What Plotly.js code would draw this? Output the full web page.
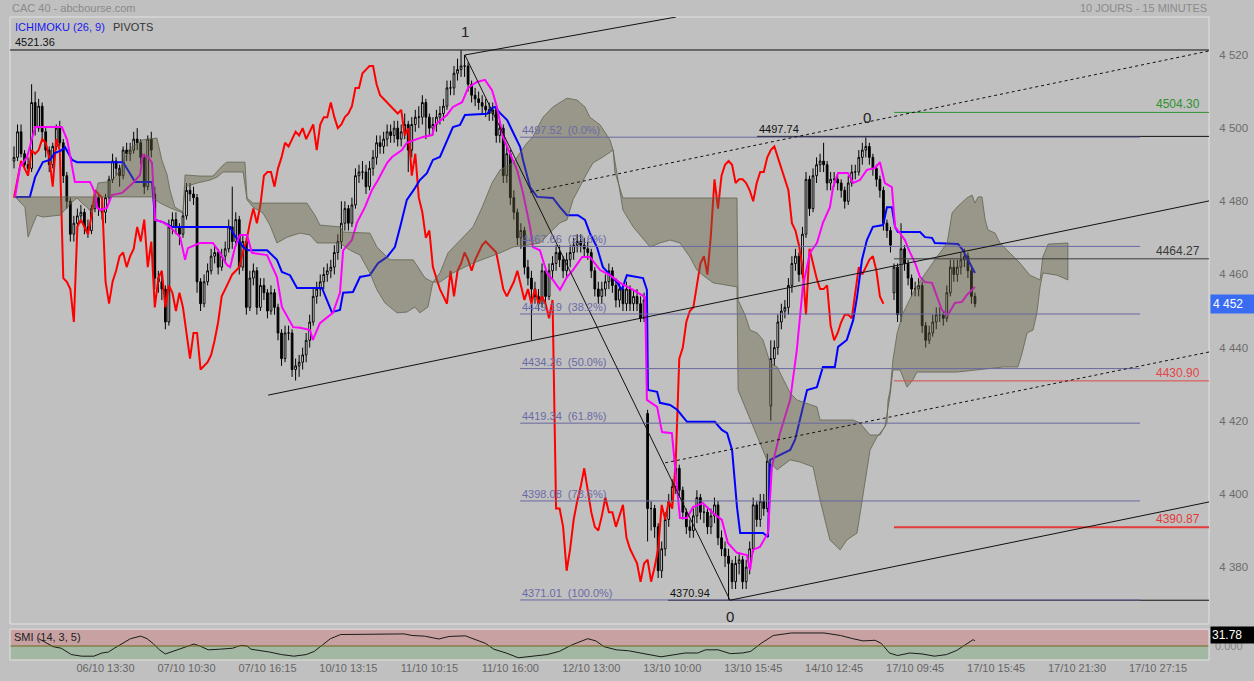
<!DOCTYPE html>
<html><head><meta charset="utf-8">
<script src="https://cdn.plot.ly/plotly-3.0.1.min.js"></script>
<style>html,body{margin:0;padding:0;background:#c0c0c0;overflow:hidden}#chart{width:1254px;height:681px}</style>
</head><body><div id="chart"></div>
<script>
// ---------------- DATA ----------------
// 15-minute CAC 40 bars (bar index = position on x axis)
const closes = [
4492,4499,4493,4490,4489,4507,4500,4506,4499,4494,4490,4495,4500,4496,4487,4480,4471,4474,4476,4477,4473,4472,4478,4481,4478,4477,
4481,4486,4491,4489,4487,4494,4493,4494,4497,4496,
4492,4484,4497,4494,4459,4458,4456,4447,4473,4475,
4473,4471,4476,4483,4482,4481,4458,4452,4458,4461,
4465,4466,4462,4465,4467,4473,4469,4475,4462,4469,
4451,4459,4461,4451,4457,4455,4450,4455,4451,4444,
4437,4444,4444,4434,4435,4436,4438,4442,4447,4454,
4456,4458,4460,4461,4462,4466,4469,4474,4478,4474,
4479,4487,4488,4488,4484,4489,4492,4496,4495,4497,
4499,4498,4500,4497,4499,4501,4494,4501,4503,4503,
4507,4503,4500,4501,4503,4504,4506,4511,4511,4515,
4516,4517,4517,4512,4509,4508,4507,4506,4505,4504,
4505,4498,4500,4487,4493,4481,4477,4470,4472,4462,
4459,4456,4454,4452,4461,4454,4461,4463,4466,4464,
4461,4464,4466,4468,4469,4468,4467,4466,4461,4456,
4454,4456,4458,4461,4457,4453,4456,4452,4456,4452,
4454,4452,4448,4453,4396,4396,4391,4379,4385,4393,
4398,4402,4407,4401,4395,4391,4390,4394,4399,4395,
4395,4391,4394,4397,4388,4385,4383,4381,4376,4381,
4382,4376,4380,4385,4397,4393,4398,4396,4409,4437,
4440,4447,4450,4451,4457,4463,4465,4460,4471,4486,
4478,4487,4490,4491,4490,4485,4486,4486,4485,4483,
4480,4485,4488,4488,4492,4494,4495,4492,4489,4486,
4483,4474,4472,4468,4462,4449,4467,4463,4459,4456,
4456,4457,4446,4442,4444,4447,4449,4449,4448,4455,
4462,4460,4462,4464,4465,4461,4454,4452];
const highs = [
4495,4501,4501,4494,4492,4512,4510,4508,4507,4500,
4495,4496,4501,4502,4497,4488,4481,4476,4478,4479,
4478,4475,4479,4483,4482,4480,4482,4487,4493,4492,
4490,4495,4496,4496,4499,4500,4497,4493,4498,4499,
4484,4461,4460,4457,4475,4477,4477,4474,4477,4485,
4485,4484,4482,4459,4460,4463,4467,4468,4467,4467,
4469,4475,4484,4477,4476,4471,4470,4461,4463,4462,
4459,4459,4456,4457,4456,4452,4445,4446,4446,4445,
4437,4438,4440,4444,4449,4456,4458,4460,4462,4463,
4464,4468,4471,4480,4480,4479,4481,4489,4490,4491,
4490,4491,4494,4498,4498,4499,4501,4501,4502,4502,
4501,4504,4502,4503,4505,4506,4509,4508,4504,4503,
4505,4506,4508,4513,4513,4517,4519,4521.36,4520,4518,
4513,4511,4510,4509,4508,4507,4507,4506,4502,4501,
4495,4494,4483,4478,4474,4473,4464,4461,4458,4456,
4463,4462,4463,4465,4468,4468,4465,4466,4468,4470,
4471,4471,4470,4469,4467,4462,4458,4458,4460,4463,
4462,4459,4458,4457,4458,4457,4456,4456,4454,4455,
4423,4398,4397,4392,4387,4395,4400,4404,4409,4408,
4402,4396,4393,4396,4401,4400,4397,4396,4396,4399,
4398,4390,4387,4385,4382,4383,4384,4383,4382,4387,
4399,4398,4400,4400,4411,4442,4442,4449,4452,4453,
4459,4465,4467,4466,4473,4488,4487,4489,4492,4493,
4496,4491,4488,4488,4487,4486,4484,4487,4490,4490,
4494,4496,4497.74,4496,4493,4490,4487,4484,4475,4473,
4463,4463,4474,4468,4464,4460,4458,4459,4458,4447,
4446,4449,4451,4451,4450,4457,4464,4464,4464,4466,
4467,4466,4462,4455];
const lows = [
4489,4491,4492,4489,4487,4488,4498,4499,4497,4492,
4488,4489,4494,4495,4485,4478,4469,4469,4472,4474,
4471,4470,4471,4477,4476,4475,4474,4480,4485,4487,
4484,4486,4491,4491,4493,4494,4490,4482,4483,4492,
4456,4455,4453,4445,4446,4471,4471,4468,4470,4475,
4480,4479,4455,4450,4451,4457,4460,4463,4460,4461,
4463,4466,4467,4468,4460,4461,4449,4450,4457,4449,
4450,4453,4448,4449,4449,4442,4435,4436,4442,4432,
4431,4432,4434,4436,4440,4446,4452,4454,4456,4458,
4459,4460,4464,4467,4472,4472,4473,4478,4485,4486,
4482,4483,4487,4490,4493,4493,4495,4496,4496,4495,
4495,4497,4488,4492,4499,4500,4501,4497,4498,4498,
4499,4501,4502,4505,4509,4509,4513,4514,4514,4510,
4507,4506,4505,4504,4503,4502,4502,4496,4496,4485,
4485,4479,4475,4468,4467,4460,4457,4442,4452,4450,
4451,4452,4453,4459,4461,4462,4459,4459,4462,4464,
4466,4466,4465,4464,4459,4454,4452,4452,4454,4456,
4455,4451,4451,4450,4450,4450,4450,4450,4447,4447,
4387,4390,4388,4377,4377,4383,4391,4396,4400,4399,
4393,4389,4388,4388,4392,4393,4392,4389,4389,4392,
4386,4383,4380,4370.94,4374,4374,4378,4374,4374,4378,
4384,4391,4391,4394,4395,4420,4435,4438,4445,4448,
4449,4455,4461,4458,4459,4470,4476,4477,4485,4488,
4488,4483,4483,4484,4483,4481,4478,4479,4484,4486,
4487,4490,4492,4490,4487,4484,4481,4472,4470,4466,
4453,4447,4447,4461,4457,4454,4454,4454,4444,4440,
4441,4443,4445,4447,4446,4447,4454,4458,4458,4460,
4462,4459,4452,4451];
// session opens that do not equal the previous close
const gapIdx  = [0, 40, 180, 215, 250];
const gapOpen = [4491, 4482, 4422, 4424, 4455];

// Ichimoku (26, 9)
const CHIKOU_SHIFT = 26;
const tenkanIdx = [0.3,1.7,3.7,6.0,13.6,15.1,17.3,21.6,23.0,23.6,24.4,26.4,27.8,30.7,33.8,35.8,36.6,38.1,39.2,40.1,42.3,44.3,47.2,48.6,49.4,52.8,56.5,58.5,60.5,61.4,62.8,64.2,66.2,67.6,71.9,74.7,76.1,79.3,81.3,84.1,84.9,86.9,90.6,92.6,93.5,96.0,97.4,99.7,101.7,103.4,106.0,107.4,110.2,111.6,113.9,116.2,118.8,119.6,123.0,124.7,127.3,129.0,131.5,133.8,135.8,137.2,138.9,140.9,142.9,144.6,145.7,146.6,147.4,149.4,151.4,153.1,155.1,157.1,158.8,161.4,163.6,166.5,169.3,172.2,175.9,179.3,179.8,182.7,184.1,186.9,187.8,189.2,191.2,192.9,195.7,198.6,201.1,202.8,205.4,208.2,209.1,209.9,211.9,214.2,215.3,217.6,220.5,222.4,224.1,226.1,228.1,229.8,231.8,232.7,234.1,236.9,238.4,240.3,242.3,244.6,246.0,247.4,249.4,250.3,251.7,253.1,254.5,256.0,257.4,258.8,260.8,262.2,263.6,265.3,267.3,269.3,270.7,273.0];
const tenkanVal = [4481.2,4489.4,4492.1,4500.3,4500.3,4496.8,4485.3,4485.3,4482.3,4478.4,4477.6,4478.2,4481.7,4482.3,4485.0,4487.2,4492.7,4492.1,4490.5,4474.9,4474.3,4473.0,4470.2,4464.0,4467.2,4468.6,4468.6,4465.9,4462.6,4462.0,4467.5,4470.8,4470.8,4465.9,4465.3,4459.3,4451.1,4445.6,4445.4,4444.8,4442.1,4446.7,4449.5,4455.0,4466.6,4469.4,4474.1,4478.4,4483.1,4485.8,4490.5,4492.1,4494.0,4496.0,4496.8,4497.6,4498.1,4500.9,4503.6,4505.8,4507.1,4511.0,4512.6,4513.2,4510.4,4505.8,4497.6,4493.2,4488.6,4482.3,4476.8,4473.0,4467.5,4466.6,4460.4,4458.5,4455.8,4459.3,4461.2,4464.8,4464.8,4461.2,4459.8,4457.7,4455.8,4453.8,4425.7,4423.8,4416.9,4416.6,4407.4,4393.4,4393.4,4396.4,4397.5,4394.8,4392.9,4386.6,4383.9,4383.3,4379.2,4384.7,4385.5,4389.3,4407.4,4416.6,4425.7,4439.4,4456.6,4465.9,4468.6,4474.1,4478.4,4483.9,4487.7,4487.7,4485.0,4485.8,4488.6,4489.1,4490.7,4485.0,4483.9,4473.0,4471.3,4469.4,4466.1,4463.1,4459.3,4457.9,4457.7,4453.8,4450.3,4448.9,4452.2,4452.5,4454.4,4456.6];
const kijunIdx = [0.3,4.5,6.0,8.2,10.2,11.6,13.6,14.5,16.5,17.9,31.0,33.0,34.4,39.2,40.1,42.3,44.9,61.4,62.2,65.1,66.5,71.9,74.7,76.1,78.4,80.4,87.5,88.9,90.3,92.6,93.5,96.3,98.3,101.1,103.4,106.0,108.2,109.7,111.6,113.9,115.3,117.3,119.0,121.0,123.0,124.7,126.7,128.1,134.4,135.8,136.6,138.1,140.1,141.8,143.8,144.6,146.6,148.6,153.1,155.1,157.1,160.2,162.2,163.6,165.6,167.3,171.3,172.7,174.1,178.7,179.8,180.1,182.7,183.5,186.4,188.4,191.2,199.1,201.1,202.6,204.0,205.4,206.3,212.8,214.2,214.8,220.5,221.9,223.3,225.3,228.1,229.8,233.2,234.1,236.6,238.4,239.5,240.9,242.3,244.0,246.9,248.0,249.4,250.3,251.1,257.4,258.8,260.8,261.6,268.2,269.6,273.0];
const kijunVal = [4481.2,4481.2,4486.6,4490.7,4491.3,4493.2,4494.0,4494.8,4491.3,4490.7,4490.7,4487.7,4485.3,4485.3,4474.9,4474.3,4473.0,4473.0,4471.3,4467.5,4466.6,4466.6,4464.0,4460.7,4459.8,4456.3,4456.3,4453.0,4449.7,4450.3,4455.0,4455.2,4459.3,4459.8,4463.1,4464.8,4467.5,4473.0,4480.4,4483.6,4485.8,4487.7,4491.3,4492.1,4496.8,4500.3,4500.9,4503.6,4503.9,4505.5,4505.8,4504.1,4502.2,4498.7,4494.8,4491.3,4483.9,4481.2,4480.9,4478.4,4476.2,4476.2,4474.9,4471.3,4467.5,4462.0,4457.9,4455.8,4459.8,4459.0,4455.8,4428.4,4427.9,4424.9,4424.3,4423.0,4419.7,4419.7,4417.5,4416.6,4412.0,4396.4,4389.3,4389.3,4388.2,4409.3,4412.0,4414.8,4420.2,4428.4,4429.2,4434.7,4434.7,4440.2,4442.1,4447.5,4453.8,4464.0,4469.4,4473.0,4473.5,4478.4,4478.4,4473.0,4471.6,4471.6,4470.2,4470.0,4468.6,4468.3,4466.6,4460.4];
// Kumo (cloud) upper and lower edges
const cloudTopIdx = [0.3,23,23.9,26.4,28.1,30.1,31.5,33,35.2,36.6,40.6,42,43.5,44.3,45.7,48,48.6,52.8,56.5,59.4,60.5,65.6,66.2,67.9,83.2,85.5,86.9,92.6,93.5,101.1,103.1,104.8,106.8,113.4,116.8,119,121,123.3,126.7,130.4,133,135.8,138.1,141.8,144.3,145.7,147.4,150.3,153.1,157.1,159.9,162.2,163.6,166.5,169.3,170.2,170.7,172.2,173,205.4,205.7,207.7,209.1,211.1,212.8,214.8,216.8,220.5,222.4,228.1,229,238.4,240.3,243.2,246,248,248.3,248.9,249.7,250.9,252.6,255.4,258.2,262.2,265.1,266.5,267.9,270.7,272.2,273,273.9,275,275.9,276.7,278.7,280.1,283,285.8,288.6,291.5,292.3,293.8,299.4];
const cloudTopVal = [4481.2,4481.2,4485.0,4485.3,4485.8,4488.6,4492.1,4494.6,4496.0,4496.8,4497.3,4491.3,4487.2,4483.1,4478.4,4477.1,4487.2,4486.9,4486.9,4489.9,4490.7,4490.7,4480.9,4479.5,4479.5,4476.2,4473.5,4473.0,4471.6,4471.3,4467.5,4465.9,4464.0,4464.0,4459.0,4457.9,4460.4,4465.9,4469.4,4473.0,4478.4,4485.0,4488.6,4490.5,4494.0,4495.9,4497.6,4503.0,4505.8,4508.2,4507.7,4505.8,4503.0,4500.9,4496.8,4494.0,4488.0,4483.1,4480.9,4480.9,4453.0,4448.9,4444.8,4444.0,4442.1,4435.8,4434.7,4427.6,4425.7,4423.8,4420.2,4420.2,4419.4,4416.1,4416.1,4419.4,4425.7,4428.4,4436.6,4444.0,4449.5,4455.0,4459.3,4464.8,4468.6,4476.8,4478.4,4480.9,4481.7,4479.5,4481.2,4481.2,4474.9,4472.2,4471.3,4468.6,4465.9,4463.1,4459.8,4458.5,4464.8,4468.3,4468.6];
const cloudBotIdx = [0.3,3.1,4,5.1,6.5,8.2,13.1,15.1,16.5,17.9,19.3,20.7,22.2,23,39.2,41.5,44.3,48,48.6,52,55.7,57.7,59.4,65.1,66.2,67.9,70.7,72.7,74.7,77.6,81.3,84.1,86.1,92.6,95.5,98.3,101.1,103.1,105.4,108.8,111.6,113.9,115.3,117.6,119,121,124.7,130.4,134.4,138.1,141.8,145.7,149.4,153.1,155.1,157.1,158.8,160.8,162.8,164.5,167.3,170.2,173,175.9,180.7,183.5,186.4,189.2,192,194,195.7,198.6,205.4,205.7,209.1,213.9,216.8,220.5,223.3,227,229,231.8,234.7,236.6,239.5,241.2,243.2,245.2,247.4,248.9,249.7,251.7,253.7,255.4,256.5,267.9,281,285.2,286.4,287.8,289.5,290.6,291.5,292.3,296.3,299.4];
const cloudBotVal = [4481.2,4478.4,4470.2,4473.0,4476.2,4475.7,4476.2,4478.4,4479.8,4480.9,4479.5,4478.4,4476.8,4481.2,4481.2,4479.5,4478.2,4476.8,4483.9,4485.0,4485.8,4486.6,4488.0,4488.0,4480.4,4478.4,4476.8,4473.5,4468.6,4470.2,4471.3,4470.8,4468.6,4468.6,4466.6,4465.3,4460.4,4455.8,4452.2,4449.5,4449.7,4451.1,4449.5,4451.1,4457.9,4457.9,4460.4,4463.1,4464.5,4465.9,4467.5,4468.0,4468.6,4472.2,4474.1,4474.9,4480.4,4483.9,4487.7,4490.5,4492.1,4494.0,4477.6,4473.0,4467.5,4468.6,4469.4,4468.6,4464.8,4461.2,4459.8,4457.7,4456.6,4428.4,4420.2,4409.3,4406.6,4409.3,4408.7,4407.4,4398.3,4387.4,4384.7,4387.4,4389.3,4400.3,4412.0,4415.6,4418.3,4427.0,4433.9,4433.9,4429.2,4431.2,4433.3,4433.3,4434.7,4434.7,4438.5,4444.0,4444.8,4449.5,4456.6,4460.4,4459.8,4458.5];

// SMI (14, 3, 5)
const smiIdx = [7.0,8.8,11.1,13.4,16.3,19.2,22.7,25.0,26.8,28.5,30.8,33.1,36.0,37.8,39.5,41.3,43.0,44.7,47.0,49.4,51.1,52.8,55.2,58.6,62.1,64.4,66.2,67.3,70.2,72.6,76.0,79.5,83.0,85.3,87.6,89.9,92.8,100.4,105.0,110.8,113.1,116.6,120.7,123.6,128.2,130.5,134.0,136.3,139.8,143.3,146.8,151.4,154.9,158.4,163.0,165.3,167.6,171.1,174.6,178.0,183.8,190.7,194.2,196.5,200.0,203.5,206.9,209.3,212.2,215.7,220.9,230.1,234.8,238.3,241.2,244.6,246.4,248.7,251.0,254.5,258.0,261.5,264.9,267.8,270.7,272.5,273.0];
const smiVal = [46,26,-4,-14,-54,-64,-64,-44,-38,-14,16,46,62,46,16,-24,-50,-38,-20,-4,12,0,-24,-20,-14,4,0,-20,-28,-38,-54,-64,-54,-34,6,46,72,72,76,76,66,62,44,60,64,46,16,-20,-44,-74,-64,-54,-34,6,46,32,-4,-24,-30,-44,-68,-44,-44,-24,-24,-48,-44,-34,16,66,82,82,66,46,32,36,16,-44,-60,-44,-50,-64,-54,-28,16,40,31.78];

// Axis ticks
const tickIdx = [26,49,72,95,118,141,164,187,210,233,256,279,302,325];
const tickLabels = ['06/10 13:30','07/10 10:30','07/10 16:15','10/10 13:15','11/10 10:15','11/10 16:00','12/10 13:00','13/10 10:00','13/10 15:45','14/10 12:45','17/10 09:45','17/10 15:45','17/10 21:30','17/10 27:15'];
const priceTicks = [4380,4400,4420,4440,4460,4480,4500,4520];
const priceTickLabels = ['4 380','4 400','4 420','4 440','4 460','4 480','4 500','4 520'];

// Drawn objects (bar index, price)
const topLevel = 4521.36;
const solidLines  = [[128.1,4520.0,188.1,4530.38],[128.1,4520.0,203.4,4370.94],[72.2,4427.0,339.5,4480.1],[203.4,4370.94,339.5,4397.8]];
const dottedLines = [[146.6,4482.5,339.5,4521.1],[185.0,4408.5,339.5,4438.8]];
const fibLevels = [4497.52,4467.66,4449.19,4434.26,4419.34,4398.08,4371.01];
const fibPct    = ['0.0%','23.6%','38.2%','50.0%','61.8%','78.6%','100.0%'];
const fibStart = 143.8, fibEnd = 319.9;
const extremeVals  = [4497.74, 4370.94];
const extremeStart = [211.1, 185.8];
const pivotVals  = [4504.30, 4464.27, 4430.90, 4390.87];
const pivotStart = 250;
const waveIdx  = [128.1, 242.3, 203.4];
const waveP    = [4521.36, 4497.74, 4370.94];
const waveText = ['1','0','0'];

// ---------------- BUILD ----------------
const FONT = 'Liberation Sans, Arial, sans-serif';
const X_RANGE = [-1.14, 339.49];
const n = Math.min(closes.length, highs.length, lows.length);
const idx = [], opens = [];
for (let i = 0; i < n; i++) {
  idx.push(i);
  const g = gapIdx.indexOf(i);
  opens.push(g >= 0 ? gapOpen[g] : closes[i - 1]);
}

const traces = [];
traces.push({
  type: 'candlestick', x: idx, open: opens, high: highs.slice(0, n), low: lows.slice(0, n), close: closes.slice(0, n),
  increasing: {line: {color: '#000', width: 1}, fillcolor: '#ffffff'},
  decreasing: {line: {color: '#000', width: 1}, fillcolor: '#000000'},
  whiskerwidth: 0, hoverinfo: 'skip', xaxis: 'x', yaxis: 'y'
});
traces.push({type: 'scatter', mode: 'lines', x: idx.slice(CHIKOU_SHIFT).map(i => i - CHIKOU_SHIFT), y: closes.slice(CHIKOU_SHIFT, n),
  line: {color: '#ff0000', width: 2}, hoverinfo: 'skip'});
traces.push({type: 'scatter', mode: 'lines', x: kijunIdx, y: kijunVal, line: {color: '#0000ff', width: 2}, hoverinfo: 'skip'});
traces.push({type: 'scatter', mode: 'lines', x: tenkanIdx, y: tenkanVal, line: {color: '#ff00ff', width: 2}, hoverinfo: 'skip'});
traces.push({type: 'scatter', mode: 'lines',
  x: cloudTopIdx.concat(cloudBotIdx.slice().reverse()),
  y: cloudTopVal.concat(cloudBotVal.slice().reverse()),
  fill: 'toself', fillcolor: 'rgba(98,96,62,0.42)', line: {color: 'rgba(95,95,78,0.75)', width: 1}, hoverinfo: 'skip'});
traces.push({type: 'scatter', mode: 'lines', x: smiIdx, y: smiVal, xaxis: 'x', yaxis: 'y2',
  line: {color: '#1a1a1a', width: 1}, hoverinfo: 'skip'});

const shapes = [];
// SMI panel background
shapes.push({type: 'rect', xref: 'x domain', yref: 'y2', x0: 0, x1: 1, y0: 0, y1: 106, fillcolor: '#c8a2a2', line: {width: 0}, layer: 'below'});
shapes.push({type: 'rect', xref: 'x domain', yref: 'y2', x0: 0, x1: 1, y0: -88, y1: 0, fillcolor: '#a3b8a3', line: {width: 0}, layer: 'below'});
shapes.push({type: 'line', xref: 'x domain', yref: 'y2', x0: 0, x1: 1, y0: 0, y1: 0, line: {color: '#6e6a1c', width: 1}});
shapes.push({type: 'rect', xref: 'x domain', yref: 'y2 domain', x0: 0, x1: 1, y0: 0, y1: 1, line: {color: '#e2e2e2', width: 1}});
// main panel border
shapes.push({type: 'rect', xref: 'x domain', yref: 'y domain', x0: 0, x1: 1, y0: 0, y1: 1, line: {color: '#e2e2e2', width: 1}});
// top level
shapes.push({type: 'line', xref: 'x domain', yref: 'y', x0: 0, x1: 1, y0: topLevel, y1: topLevel, line: {color: '#111', width: 1}});
// extreme level lines (under the fib lines)
extremeVals.forEach((v, k) => shapes.push({type: 'line', xref: 'x', yref: 'y', x0: extremeStart[k], x1: X_RANGE[1], y0: v, y1: v, line: {color: '#111', width: 1}}));
// fibonacci
fibLevels.forEach(v => shapes.push({type: 'line', xref: 'x', yref: 'y', x0: fibStart, x1: fibEnd, y0: v, y1: v, line: {color: '#6868a0', width: 1}}));
// pivots
const pivotColors = ['#2f922f', '#3a3a3a', '#e04848', '#e43a3a'];
const pivotWidths = [1, 1, 1, 2];
pivotVals.forEach((v, k) => shapes.push({type: 'line', xref: 'x', yref: 'y', x0: pivotStart, x1: X_RANGE[1], y0: v, y1: v, line: {color: pivotColors[k], width: pivotWidths[k]}}));
// trend lines
solidLines.forEach(s => shapes.push({type: 'line', xref: 'x', yref: 'y', x0: s[0], y0: s[1], x1: s[2], y1: s[3], line: {color: '#111', width: 1}}));
dottedLines.forEach(s => shapes.push({type: 'line', xref: 'x', yref: 'y', x0: s[0], y0: s[1], x1: s[2], y1: s[3], line: {color: '#111', width: 1, dash: 'dot'}}));

const ann = [];
const A = (o) => ann.push(Object.assign({showarrow: false, font: {family: FONT, size: 11, color: '#222'}}, o));
A({text: 'CAC 40 - abcbourse.com', xref: 'paper', yref: 'paper', x: 0, y: 1, xanchor: 'left', yanchor: 'bottom', yshift: 1, font: {family: FONT, size: 11, color: '#8a8a8a'}});
A({text: '10 JOURS - 15 MINUTES', xref: 'paper', yref: 'paper', x: 1, y: 1, xanchor: 'right', yanchor: 'bottom', yshift: 1, font: {family: FONT, size: 11, color: '#8a8a8a'}});
A({text: 'ICHIMOKU (26, 9)', xref: 'paper', yref: 'paper', x: 0, y: 1, xanchor: 'left', yanchor: 'top', xshift: 3, yshift: -2, font: {family: FONT, size: 11, color: '#1818f0'}});
A({text: 'PIVOTS', xref: 'paper', yref: 'paper', x: 0, y: 1, xanchor: 'left', yanchor: 'top', xshift: 101, yshift: -2, font: {family: FONT, size: 11, color: '#333'}});
A({text: topLevel.toFixed(2), xref: 'paper', yref: 'y', x: 0, y: topLevel, xanchor: 'left', yanchor: 'bottom', xshift: 3, font: {family: FONT, size: 11, color: '#111'}});
fibLevels.forEach((v, k) => A({text: v.toFixed(2) + '&nbsp;&nbsp;(' + fibPct[k] + ')', xref: 'x', yref: 'y', x: fibStart, y: v, xanchor: 'left', yanchor: 'bottom', yshift: -1,
  font: {family: FONT, size: 11, color: '#6a6aa6'}}));
extremeVals.forEach((v, k) => A({text: v.toFixed(2), xref: 'x', yref: 'y', x: extremeStart[k], y: v, xanchor: 'left', yanchor: 'bottom', yshift: -1,
  font: {family: FONT, size: 11, color: '#111'}}));
pivotVals.forEach((v, k) => A({text: v.toFixed(2), xref: 'paper', yref: 'y', x: 1, y: v, xanchor: 'right', yanchor: 'bottom', xshift: -7, yshift: -1,
  font: {family: FONT, size: 12, color: pivotColors[k]}}));
waveText.forEach((t, k) => A({text: t, xref: 'x', yref: 'y', x: waveIdx[k], y: waveP[k], xanchor: 'center', yanchor: k === 2 ? 'top' : 'bottom',
  yshift: k === 2 ? -6 : 8, font: {family: FONT, size: 15, color: '#222'}}));
const last = closes[n - 1];
A({text: String(last).replace(/(\d)(\d{3})$/, '$1 $2'), xref: 'paper', yref: 'y', x: 1, y: last, xanchor: 'left', yanchor: 'middle', xshift: 1,
  bgcolor: '#3a6cf2', borderpad: 2, width: 40, align: 'left', font: {family: FONT, size: 12, color: '#fff'}});
A({text: 'SMI (14, 3, 5)', xref: 'paper', yref: 'y2', x: 0, y: 54, xanchor: 'left', yanchor: 'middle', xshift: 2, font: {family: FONT, size: 11, color: '#222'}});
A({text: '0.000', xref: 'paper', yref: 'y2', x: 1, y: 0, xanchor: 'left', yanchor: 'middle', xshift: 4, font: {family: FONT, size: 11, color: '#888'}});
const smiLast = smiVal[smiVal.length - 1];
A({text: smiLast.toFixed(2), xref: 'paper', yref: 'y2', x: 1, y: smiLast, xanchor: 'left', yanchor: 'middle', xshift: 1, yshift: 6,
  bgcolor: '#000', borderpad: 1, width: 41, align: 'left', font: {family: FONT, size: 12, color: '#fff'}});

const layout = {
  width: 1254, height: 681,
  margin: {l: 10, r: 45, t: 17, b: 21, pad: 0},
  paper_bgcolor: '#c0c0c0', plot_bgcolor: '#c0c0c0',
  showlegend: false, hovermode: false, dragmode: false,
  font: {family: FONT, size: 11, color: '#666'},
  xaxis: {range: X_RANGE, anchor: 'y2', tickmode: 'array', tickvals: tickIdx, ticktext: tickLabels, showgrid: false, zeroline: false,
    showline: false, ticks: '', tickfont: {family: FONT, size: 11, color: '#666'}, rangeslider: {visible: false}, fixedrange: true},
  yaxis: {domain: [0.056, 1], range: [4364.44, 4530.38], side: 'right', tickmode: 'array', tickvals: priceTicks, ticktext: priceTickLabels,
    showgrid: false, zeroline: false, showline: false, ticks: 'outside', ticklen: 7, tickcolor: 'rgba(0,0,0,0)',
    tickfont: {family: FONT, size: 11.5, color: '#6c6c6c'}, fixedrange: true},
  yaxis2: {domain: [0, 0.048], range: [-88, 106], showticklabels: false, showgrid: false, zeroline: false, fixedrange: true},
  shapes: shapes, annotations: ann
};
Plotly.newPlot('chart', traces, layout, {displayModeBar: false, staticPlot: true});
</script></body></html>
